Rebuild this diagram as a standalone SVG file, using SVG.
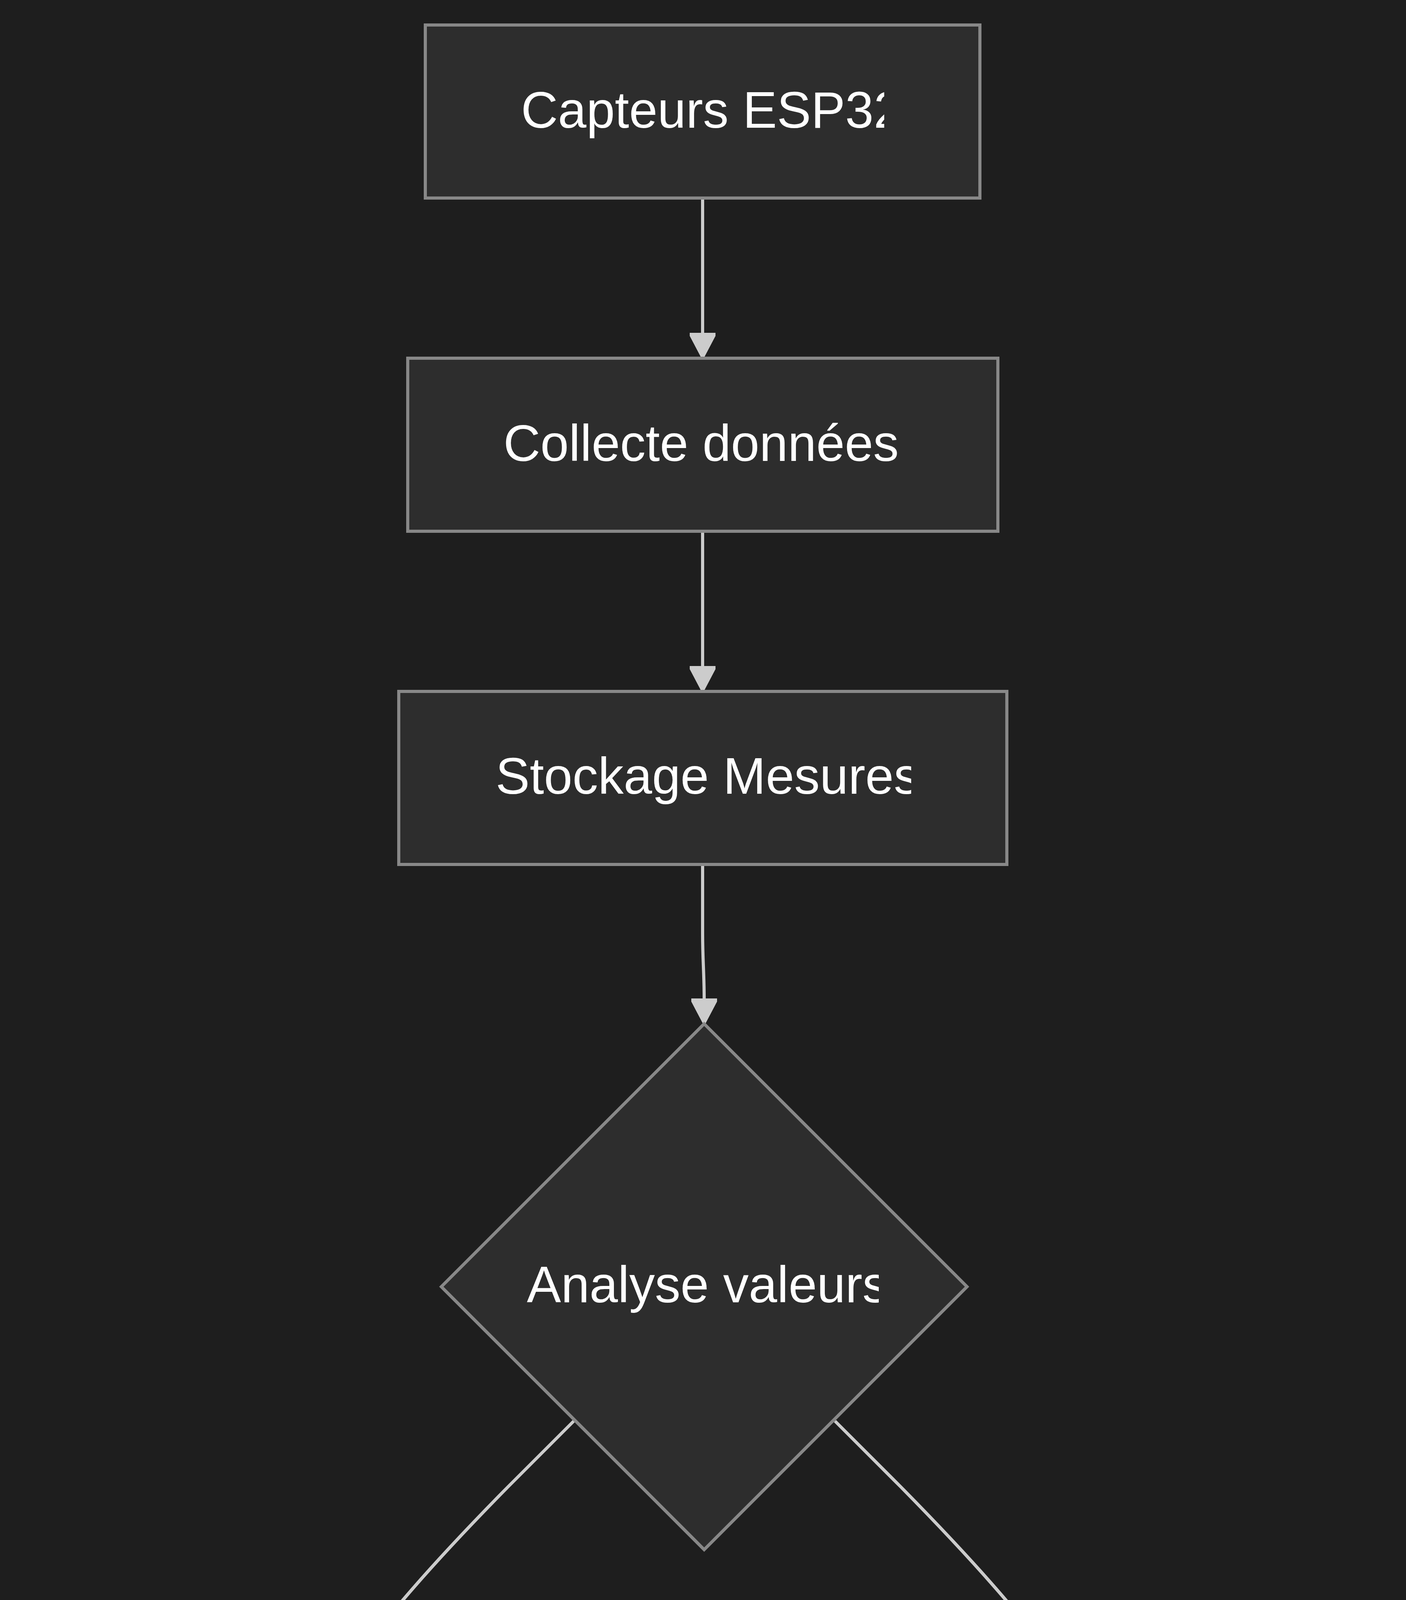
<svg xmlns="http://www.w3.org/2000/svg" width="3600" height="5934" viewBox="0 0 3600 5934">
<style>
.bg{fill:#1e1e1e}
.node{fill:#2d2d2d;stroke:#888888;stroke-width:8}
.edge{fill:none;stroke:#cccccc;stroke-width:8}
.lbl{fill:#ffffff;font-family:"Liberation Sans",Arial,sans-serif;font-size:131px}
.elbg{fill:#5a5a5a}
</style>
<defs>
<marker id="arrow" markerUnits="userSpaceOnUse" markerWidth="70" markerHeight="70" viewBox="0 0 70 70" refX="0" refY="33" orient="auto">
<path d="M0,0 L8,0 L65,30 L65,36 L8,66 L0,66 Z" fill="#cccccc"/>
</marker>
<clipPath id="c1"><rect x="1334" y="64" width="930" height="443"/></clipPath>
<clipPath id="c2"><rect x="1289" y="917" width="1022" height="443"/></clipPath>
<clipPath id="c3"><rect x="1266" y="1770" width="1067" height="443"/></clipPath>
<clipPath id="c4"><rect x="1349" y="3150" width="901" height="300"/></clipPath>
<clipPath id="c5"><rect x="337" y="4574" width="999" height="443"/></clipPath>
<clipPath id="c6"><rect x="2235" y="4574" width="1054" height="443"/></clipPath>
<clipPath id="c7"><rect x="310" y="5427" width="1052" height="442"/></clipPath>
<clipPath id="c8"><rect x="2408" y="5427" width="707" height="442"/></clipPath>
<clipPath id="cl1"><rect x="583" y="4173" width="490" height="196"/></clipPath>
<clipPath id="cl2"><rect x="2475" y="4173" width="556" height="196"/></clipPath>
</defs>
<rect class="bg" x="0" y="0" width="3600" height="5934"/>
<g id="connectors">
<path class="edge" d="M1799 507 L1799 852" marker-end="url(#arrow)"/>
<path class="edge" d="M1799 1360 L1799 1705" marker-end="url(#arrow)"/>
<path class="edge" d="M1799 2213 L1799 2390 C1799 2460 1803 2490 1803 2556" marker-end="url(#arrow)"/>
<path class="edge" d="M1469 3638 L1300 3807 C1100 4010 950 4180 880 4300 C845 4370 836 4420 836 4509" marker-end="url(#arrow)"/>
<path class="edge" d="M2138 3638 L2307 3807 C2507 4010 2657 4180 2727 4300 C2755 4370 2762 4420 2762 4509" marker-end="url(#arrow)"/>
<path class="edge" d="M836 5017 L836 5362" marker-end="url(#arrow)"/>
<path class="edge" d="M2762 5017 L2762 5362" marker-end="url(#arrow)"/>
</g>
<g id="edge-labels">
<g id="label-normale">
<rect class="elbg" x="583" y="4173" width="490" height="196"/>
<text class="lbl" x="828" y="4310" text-anchor="middle" clip-path="url(#cl1)">Normale</text>
</g>
<g id="label-anormale">
<rect class="elbg" x="2475" y="4173" width="556" height="196"/>
<text class="lbl" x="2753" y="4310" text-anchor="middle" clip-path="url(#cl2)">Anormale</text>
</g>
</g>
<g id="node-capteurs">
<rect class="node" x="1089" y="64" width="1420" height="443"/>
<text class="lbl" x="1334" y="327" clip-path="url(#c1)">Capteurs ESP32</text>
</g>
<g id="node-collecte">
<rect class="node" x="1044" y="917" width="1511" height="443"/>
<text class="lbl" x="1289" y="1180" clip-path="url(#c2)">Collecte données</text>
</g>
<g id="node-stockage">
<rect class="node" x="1021" y="1770" width="1557" height="443"/>
<text class="lbl" x="1269" y="2032" clip-path="url(#c3)">Stockage Mesures</text>
</g>
<g id="node-analyse">
<polygon class="node" points="1803,2621 2476,3294 1803,3967 1130,3294"/>
<text class="lbl" x="1349" y="3334" clip-path="url(#c4)">Analyse valeurs</text>
</g>
<g id="node-base">
<rect class="node" x="92" y="4574" width="1489" height="443"/>
<text class="lbl" x="337" y="4837" clip-path="url(#c5)">Base de données</text>
</g>
<g id="node-generation">
<rect class="node" x="1989" y="4574" width="1545" height="443"/>
<text class="lbl" x="2236" y="4837" clip-path="url(#c6)">Génération Alerte</text>
</g>
<g id="node-dashboard">
<rect class="node" x="65" y="5427" width="1542" height="442"/>
<text class="lbl" x="310" y="5689" clip-path="url(#c7)">Dashboard Admin</text>
</g>
<g id="node-notification">
<rect class="node" x="2163" y="5427" width="1197" height="442"/>
<text class="lbl" x="2408" y="5689" clip-path="url(#c8)">Notification</text>
</g>
</svg>
